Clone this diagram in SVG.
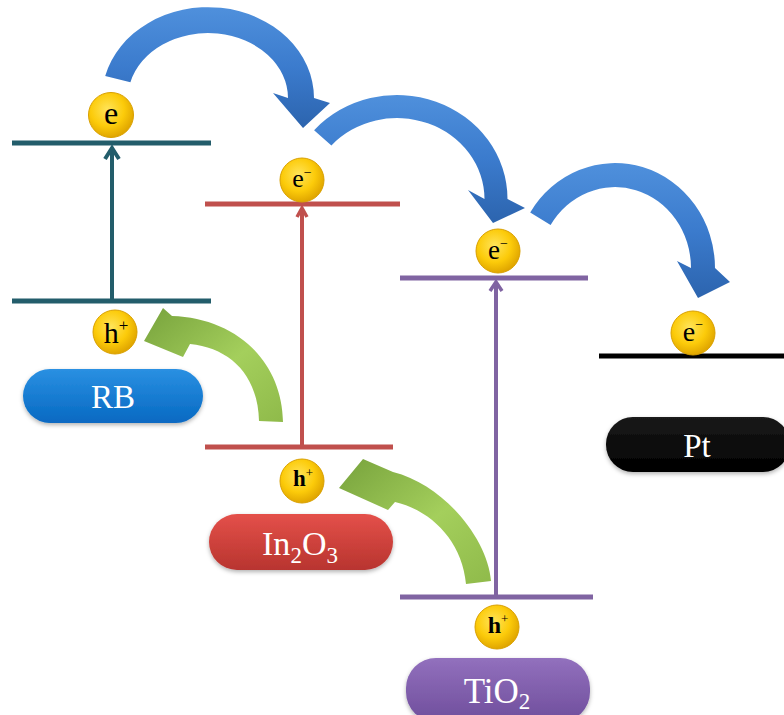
<svg xmlns="http://www.w3.org/2000/svg" width="784" height="715" viewBox="0 0 784 715">
  <defs>
    <style>
      .lvl { stroke-width: 5; fill: none; }
      .vert { stroke-width: 4; fill: none; }
      .rb { stroke: #235d6b; }
      .ino { stroke: #c0504d; }
      .tio { stroke: #8064a2; }
      .pt { stroke: #000000; }
      .ball { fill: url(#gold); stroke: #d9a000; stroke-width: 1; }
      .bt { font-family: "Liberation Serif", "Times New Roman", serif; fill: #000; text-anchor: middle; }
      .pill-t { font-family: "Liberation Serif", "Times New Roman", serif; fill: #ffffff; text-anchor: middle; }
      .blue { fill: url(#blueGrad); }
      .green { fill: url(#greenGrad); }
    </style>
    <radialGradient id="gold" cx="0.42" cy="0.38" r="0.62">
      <stop offset="0" stop-color="#ffe45a"/>
      <stop offset="0.6" stop-color="#fccb0a"/>
      <stop offset="1" stop-color="#e0a600"/>
    </radialGradient>
    <linearGradient id="blueGrad" x1="0" y1="0" x2="0" y2="1">
      <stop offset="0" stop-color="#4f90dc"/>
      <stop offset="0.5" stop-color="#3b7bcd"/>
      <stop offset="1" stop-color="#2c64ae"/>
    </linearGradient>
    <linearGradient id="greenGrad" x1="1" y1="1" x2="0" y2="0">
      <stop offset="0" stop-color="#8fba4a"/>
      <stop offset="0.45" stop-color="#a4cf5c"/>
      <stop offset="1" stop-color="#77a23c"/>
    </linearGradient>
    <linearGradient id="pillBlue" x1="0" y1="0" x2="0" y2="1">
      <stop offset="0" stop-color="#2a90e2"/>
      <stop offset="1" stop-color="#0769c2"/>
    </linearGradient>
    <linearGradient id="pillRed" x1="0" y1="0" x2="0" y2="1">
      <stop offset="0" stop-color="#e4504a"/>
      <stop offset="1" stop-color="#b8342f"/>
    </linearGradient>
    <linearGradient id="pillPurple" x1="0" y1="0" x2="0" y2="1">
      <stop offset="0" stop-color="#9270bd"/>
      <stop offset="1" stop-color="#6f4e9c"/>
    </linearGradient>
    <linearGradient id="pillBlack" x1="0" y1="0" x2="0" y2="1">
      <stop offset="0" stop-color="#1a1a1a"/>
      <stop offset="1" stop-color="#000000"/>
    </linearGradient>
    <filter id="shadow" x="-10%" y="-20%" width="120%" height="150%">
      <feDropShadow dx="0" dy="2" stdDeviation="2" flood-color="#000" flood-opacity="0.3"/>
    </filter>
    <marker id="headRB" markerUnits="userSpaceOnUse" viewBox="-14 -10 18 20" markerWidth="18" markerHeight="20" refX="0" refY="0" orient="auto">
      <path d="M-11,-7 L0,0 L-11,7" fill="none" stroke="#235d6b" stroke-width="4"/>
    </marker>
    <marker id="headIn" markerUnits="userSpaceOnUse" viewBox="-12 -8 16 16" markerWidth="16" markerHeight="16" refX="0" refY="0" orient="auto">
      <path d="M-9,-5 L0,0 L-9,5" fill="none" stroke="#c0504d" stroke-width="3.5"/>
    </marker>
    <marker id="headTi" markerUnits="userSpaceOnUse" viewBox="-12 -8 16 16" markerWidth="16" markerHeight="16" refX="0" refY="0" orient="auto">
      <path d="M-9,-6 L0,0 L-9,6" fill="none" stroke="#8064a2" stroke-width="3.5"/>
    </marker>
  </defs>

  <rect width="784" height="715" fill="#ffffff"/>

  <!-- energy levels and excitation arrows -->
  <g id="connectors">
    <line class="lvl rb" x1="12" y1="143" x2="211" y2="143"/>
    <line class="lvl rb" x1="12" y1="301" x2="211" y2="301"/>
    <line class="vert rb" x1="112" y1="299" x2="112" y2="148" stroke-width="5" marker-end="url(#headRB)"/>

    <line class="lvl ino" x1="205" y1="204" x2="400" y2="204"/>
    <line class="lvl ino" x1="205" y1="447" x2="393" y2="447"/>
    <line class="vert ino" x1="302" y1="445" x2="302" y2="208" marker-end="url(#headIn)"/>

    <line class="lvl tio" x1="400" y1="278" x2="588" y2="278"/>
    <line class="lvl tio" x1="400" y1="597" x2="593" y2="597"/>
    <line class="vert tio" x1="496" y1="595" x2="496" y2="282" marker-end="url(#headTi)"/>

    <line class="lvl pt" x1="599" y1="356" x2="784" y2="356" stroke-width="6"/>

    <!-- electron transfer (blue) -->
    <path class="blue" d="M105.2,76 A106,91 0 0 1 314,98 L330,103 L303,128 L273,93 L288,98 A80,65 0 0 0 130.4,82.3 Z"/>
    <path class="blue" d="M314.1,130.2 A110.5,104 0 0 1 507.5,199 L525,208 L493,223 L468,190 L484.5,199 A87.5,81 0 0 0 331.4,145.5 Z"/>
    <path class="blue" d="M530.2,212.4 A100,105 0 0 1 715,268 L730,282 L698,298 L677,261 L691,268 A76,81 0 0 0 550.6,225.1 Z"/>

    <!-- hole transfer (green) -->
    <path class="green" d="M283,422 C282,360 235,318 172,316 L163,308 L144,341 L183,357 L190,344 C230,348 258,375 259,421 Z"/>
    <path class="green" d="M491,581 C488,540 445,485 393,472 L363,459 L339,488 L388,510 L395,502 C430,510 462,540 466,584 Z"/>
  </g>

  <!-- RB -->
  <g id="rb">
    <circle class="ball" cx="111" cy="115" r="22.5"/>
    <text class="bt" x="111" y="124" font-size="32">e</text>
    <circle class="ball" cx="115" cy="332" r="22"/>
    <text class="bt" x="116" y="343" font-size="30">h<tspan font-size="17" dy="-12">+</tspan></text>
    <rect x="23" y="369" width="180" height="54" rx="27" fill="url(#pillBlue)" filter="url(#shadow)"/>
    <text class="pill-t" x="113" y="408" font-size="33">RB</text>
  </g>

  <!-- In2O3 -->
  <g id="in2o3">
    <circle class="ball" cx="302" cy="180" r="22"/>
    <text class="bt" x="302" y="187" font-size="26">e<tspan font-size="14" dy="-10">−</tspan></text>
    <circle class="ball" cx="302" cy="481" r="22"/>
    <text class="bt" x="303" y="486" font-size="23" font-weight="bold">h<tspan font-size="13" font-weight="normal" dy="-9">+</tspan></text>
    <rect x="209" y="514" width="184" height="56" rx="28" fill="url(#pillRed)" filter="url(#shadow)"/>
    <text class="pill-t" x="300" y="555" font-size="34">In<tspan font-size="23" dy="8">2</tspan><tspan dy="-8">O</tspan><tspan font-size="23" dy="8">3</tspan></text>
  </g>

  <!-- TiO2 -->
  <g id="tio2">
    <circle class="ball" cx="498" cy="251" r="22"/>
    <text class="bt" x="498" y="259" font-size="27">e<tspan font-size="14" dy="-11">−</tspan></text>
    <circle class="ball" cx="497" cy="627" r="22"/>
    <text class="bt" x="498" y="633" font-size="24" font-weight="bold">h<tspan font-size="13" font-weight="normal" dy="-10">+</tspan></text>
    <rect x="406" y="658" width="184" height="64" rx="30" fill="url(#pillPurple)" filter="url(#shadow)"/>
    <text class="pill-t" x="497" y="703" font-size="35">TiO<tspan font-size="23" dy="6">2</tspan></text>
  </g>

  <!-- Pt -->
  <g id="pt">
    <circle class="ball" cx="693" cy="333" r="22"/>
    <text class="bt" x="693" y="341" font-size="28">e<tspan font-size="14" dy="-12">−</tspan></text>
    <rect x="606" y="417" width="184" height="55" rx="27" fill="url(#pillBlack)" filter="url(#shadow)"/>
    <text class="pill-t" x="697" y="457" font-size="33">Pt</text>
  </g>
</svg>
